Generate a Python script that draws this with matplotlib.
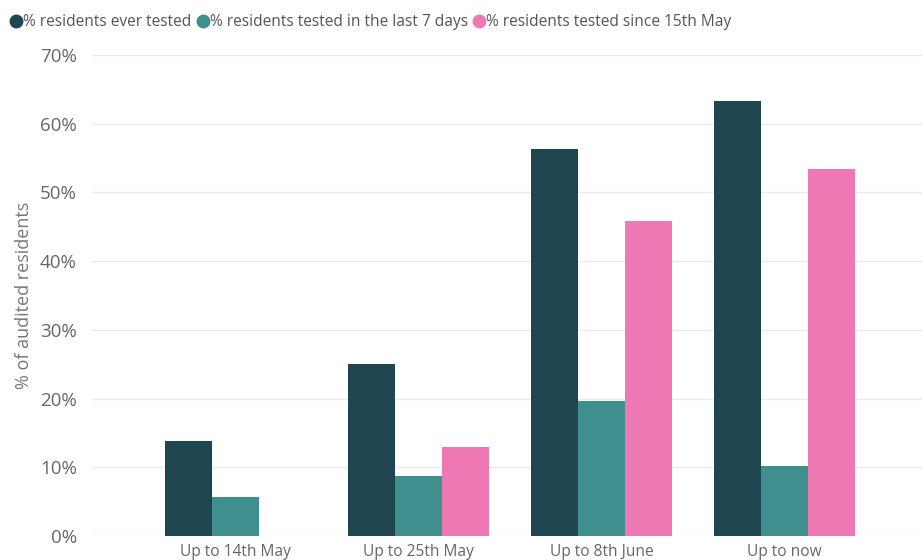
import matplotlib.pyplot as plt
import numpy as np
from matplotlib.lines import Line2D
from matplotlib.ticker import FuncFormatter

plt.rcParams['font.family'] = ['Open Sans', 'DejaVu Sans']

# data
periods = ['Up to 14th May', 'Up to 25th May', 'Up to 8th June', 'Up to now']
series = ['% residents ever tested', '% residents tested in the last 7 days',
          '% residents tested since 15th May']
ever_tested = [13.8, 25.0, 56.3, 63.3]
last_7_days = [5.7, 8.7, 19.6, 10.2]
since_15_may = [np.nan, 12.9, 45.9, 53.4]
colors = ['#1F4650', '#3F8F8F', '#EE78B4']

fig = plt.figure(figsize=(9.22, 5.6), dpi=100)
ax = fig.add_axes([0.0998, 0.0429, 0.9002, 0.8589])

x = np.arange(len(periods))
w = 0.256
for i, (vals, c) in enumerate(zip([ever_tested, last_7_days, since_15_may], colors)):
    ax.bar(x + (i - 1) * w, vals, w, color=c, zorder=3)

ax.set_xlim(-0.784, 3.751)
ax.set_ylim(0, 70)
ax.set_yticks(np.arange(0, 71, 10))
ax.yaxis.set_major_formatter(FuncFormatter(lambda v, p: f'{v:.0f}%'))
ax.set_xticks(x)
ax.set_xticklabels(periods)
ax.grid(axis='y', color='#EAEAEA', lw=1, zorder=0)
for s in ax.spines.values():
    s.set_visible(False)
ax.tick_params(length=0, colors='#666666', labelsize=11.2)
ax.tick_params(axis='y', pad=11, labelsize=13.5)
ax.tick_params(axis='x', pad=6)
ax.set_ylabel('% of audited residents', color='#777777', fontsize=13, labelpad=5)

handles = [Line2D([], [], ls='', marker='o', markersize=9, color=c) for c in colors]
fig.legend(handles, series, ncol=3, loc='center left', bbox_to_anchor=(0.012, 1 - 22 / 560),
           frameon=False, handlelength=0.6, handletextpad=0.15, columnspacing=0.45,
           fontsize=11.2, labelcolor='#555555', borderpad=0, borderaxespad=0)

fig.savefig('out.png', dpi=100)
